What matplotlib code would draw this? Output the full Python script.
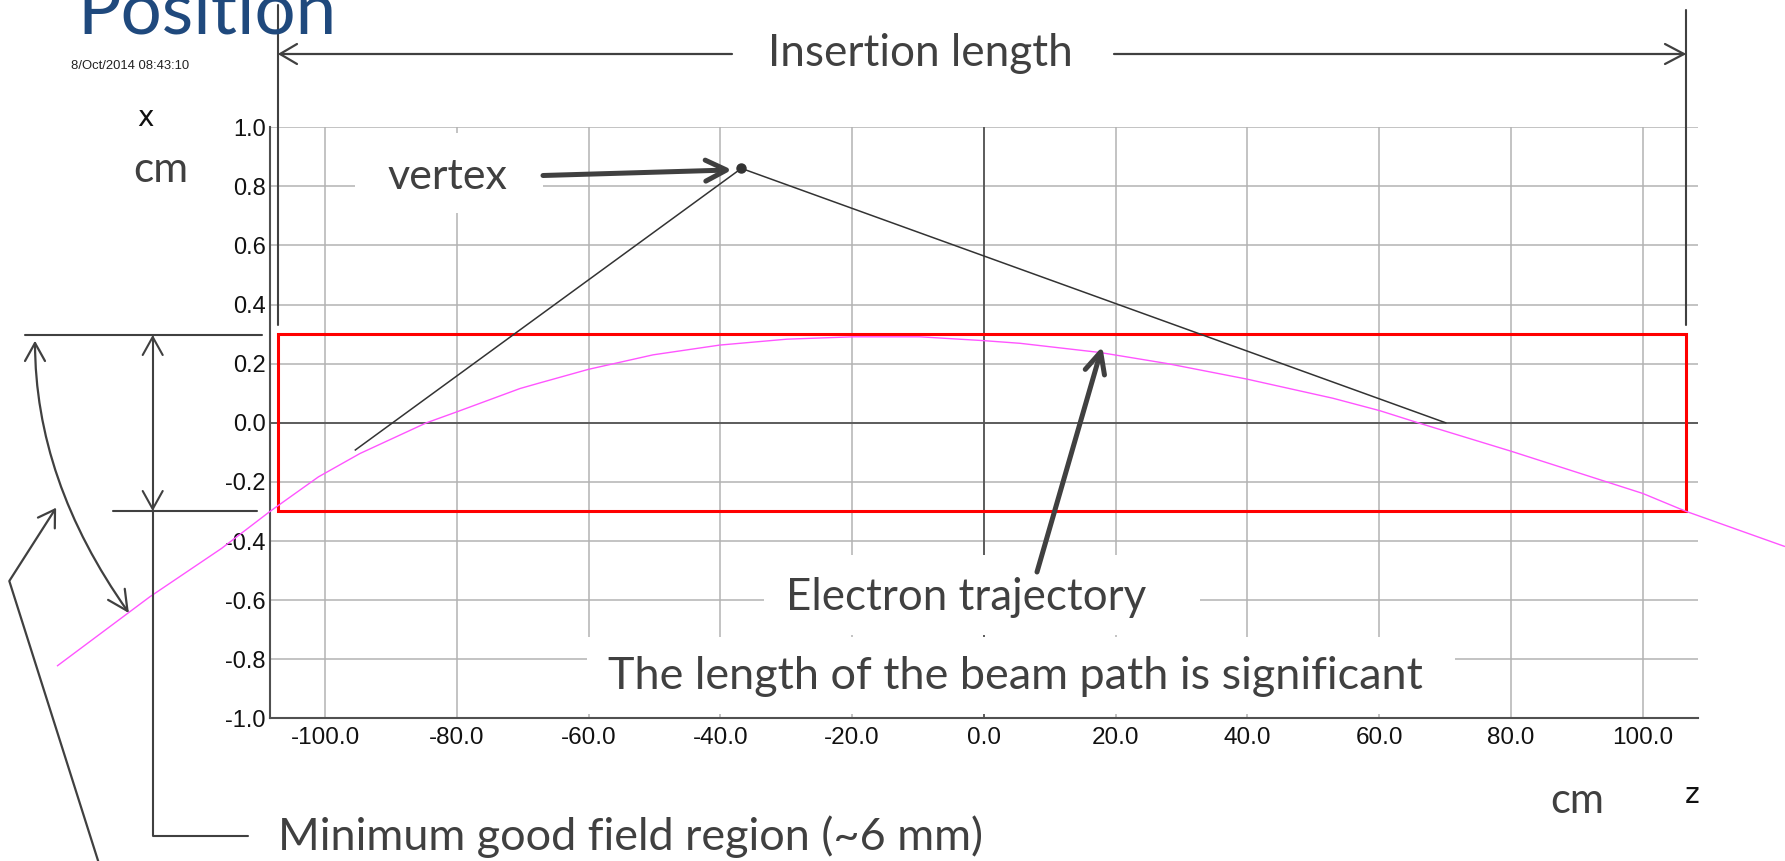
import numpy as np
import matplotlib
matplotlib.use("Agg")
import matplotlib.pyplot as plt
from matplotlib.patches import Rectangle, PathPatch
from matplotlib.path import Path

# ---- data ---------------------------------------------------------------
# electron trajectory: z (cm) vs x (cm)
traj_z = [-140.6, -126.6, -115.7, -108.3, -101.0, -94.7, -84.6, -80.0, -70.4,
          -67.4, -60.0, -50.2, -40.1, -29.9, -19.8, -9.7, 0.0, 5.5, 17.6, 27.7,
          39.9, 53.0, 60.1, 66.2, 80.0, 100.0, 106.5, 121.5]
traj_x = [-0.822, -0.589, -0.425, -0.299, -0.183, -0.104, 0.000, 0.037, 0.116,
          0.135, 0.181, 0.230, 0.263, 0.283, 0.291, 0.291, 0.278, 0.269, 0.238,
          0.201, 0.148, 0.083, 0.041, -0.002, -0.096, -0.239, -0.299, -0.418]

# straight-line track through the vertex
vertex_z = [-95.4, -36.8, 70.1]
vertex_x = [-0.092, 0.861, 0.0]
vertex_point = (-36.8, 0.861)

# good-field region (+/- half width) over the insertion length
good_field_half = 0.3
insertion_z = (-107.2, 106.5)

x_ticks = [-100, -80, -60, -40, -20, 0, 20, 40, 60, 80, 100]
y_ticks = [-1.0, -0.8, -0.6, -0.4, -0.2, 0.0, 0.2, 0.4, 0.6, 0.8, 1.0]
x_ticklabels = ["%.1f" % v for v in x_ticks]
y_ticklabels = ["%.1f" % v for v in y_ticks]

# ---- figure -------------------------------------------------------------
W, H = 1785, 861
fig = plt.figure(figsize=(W / 100, H / 100), dpi=100)
fig.patch.set_facecolor("white")

ax = fig.add_axes([270 / W, 1 - 718.3 / H, (1697.7 - 270) / W, (718.3 - 127.3) / H])
ax.set_xlim(-108.35, 108.35)
ax.set_ylim(-1.0, 1.0)
ax.set_xticks(x_ticks)
ax.set_xticklabels(x_ticklabels)
ax.set_yticks(y_ticks)
ax.set_yticklabels(y_ticklabels)
ax.tick_params(length=0, colors="#111111")
ax.tick_params(axis="y", pad=3, labelsize=17)
ax.tick_params(axis="x", pad=6, labelsize=17.5)
for lab in ax.get_xticklabels() + ax.get_yticklabels():
    lab.set_family("Liberation Sans")
ax.grid(True, color="#b3b3b3", lw=1.1)
ax.set_axisbelow(True)
for s in ("top", "right"):
    ax.spines[s].set_visible(False)
for s in ("left", "bottom"):
    ax.spines[s].set_color("#505050")
    ax.spines[s].set_linewidth(1.5)
ax.axhline(0, color="#555555", lw=1.3, zorder=1)
ax.axvline(0, color="#555555", lw=1.3, zorder=1)

# good-field box
ax.add_patch(Rectangle((insertion_z[0], -good_field_half),
                       insertion_z[1] - insertion_z[0], 2 * good_field_half,
                       fill=False, edgecolor="#ff0000", lw=2.2, zorder=3, clip_on=False))
# trajectory
ax.plot(traj_z, traj_x, color="#ff55ff", lw=1.0, zorder=4, clip_on=False)
# track through vertex
ax.plot(vertex_z, vertex_x, color="#333333", lw=1.1, zorder=5, clip_on=False)
ax.plot(*vertex_point, "o", color="#333333", ms=6.5, zorder=6)

# ---- annotation layer in pixel coordinates ------------------------------
ov = fig.add_axes([0, 0, 1, 1], zorder=3)
ov.set_xlim(0, W)
ov.set_ylim(H, 0)
ov.axis("off")
ov.patch.set_alpha(0)

C = "#404040"


def seg(xs, ys, lw=1.5):
    ov.plot(xs, ys, color=C, lw=lw, solid_capstyle="round",
            solid_joinstyle="round", clip_on=False, zorder=5)


def chevron(tip, d, length=18, half=10, lw=1.5):
    d = np.asarray(d, float)
    d = d / np.hypot(*d)
    n = np.array([-d[1], d[0]])
    tip = np.asarray(tip, float)
    base = tip - d * length
    w1, w2 = base + n * half, base - n * half
    seg([w1[0], tip[0], w2[0]], [w1[1], tip[1], w2[1]], lw)


def label(x, y, s, width, **kw):
    t = ov.text(x, y, s, ha="left", va="baseline", zorder=6, **kw)
    fits.append((t, width))
    return t


def white_box(x0, y0, x1, y1):
    ov.add_patch(Rectangle((x0, y0), x1 - x0, y1 - y0, facecolor="white",
                           edgecolor="none", zorder=1))


fits = []

# text backgrounds
white_box(355, 133, 543, 213)
white_box(764, 555, 1200, 635)
white_box(587, 637, 1455, 714)

# insertion length markers
seg([277.8, 277.8], [5, 325])
seg([1686, 1686], [10, 325])
seg([280, 732], [54, 54], 1.6)
chevron((280, 54), (-1, 0), 17, 10, 1.6)
seg([1114, 1684], [54, 54], 1.6)
chevron((1684, 54), (1, 0), 19, 10, 1.6)

# vertex arrow
seg([543, 722], [175.5, 170.2], 3.6)
chevron((726.5, 170), (1, -0.03), 21, 10.5, 3.6)

# electron trajectory arrow
seg([1037, 1099.5], [572, 356], 3.6)
chevron((1100.7, 352), (63.7, -220), 21, 10, 3.6)

# good-field bracket
seg([25, 262], [335.4, 335.4])
seg([113, 257], [511, 511])
seg([152.7, 152.7], [337, 509])
chevron((152.7, 337), (0, -1), 18, 10)
chevron((152.7, 509), (0, 1), 18, 10)
seg([152.7, 152.7, 248], [511, 835.6, 835.6])

# curved double arrow
curve = Path([(35, 343), (35, 480), (127.5, 611)],
             [Path.MOVETO, Path.CURVE3, Path.CURVE3])
ov.add_patch(PathPatch(curve, fill=False, edgecolor=C, lw=1.6, zorder=5,
                       capstyle="round"))
chevron((35, 343), (0, -1), 18, 10, 1.6)
chevron((127.5, 611), (20.6, 31), 20, 10, 1.6)

# pointer
seg([101, 9.3, 55], [870, 581, 509.5], 1.6)
chevron((55, 509.5), (45.7, -71.5), 16, 10, 1.6)

# texts
sans = "Lato"
label(77, 33, "Position", 259, family=sans, color="#1F497D", fontsize=50)
label(71, 69, "8/Oct/2014 08:43:10", 118, family="Liberation Sans",
      color="#222222", fontsize=9)
ov.text(145, 118, "x", ha="center", va="center", family="DejaVu Sans",
        fontsize=20, color="#111111", zorder=6)
ov.text(1692, 795, "z", ha="center", va="center", family="DejaVu Sans",
        fontsize=20, color="#111111", zorder=6)
label(133, 182, "cm", 55, family=sans, color=C, fontsize=30)
label(1550, 813, "cm", 54, family=sans, color=C, fontsize=30)
label(388, 189, "vertex", 120, family=sans, color=C, fontsize=30)
label(768, 66.5, "Insertion length", 304, family=sans, color=C, fontsize=30)
label(786, 610, "Electron trajectory", 359, family=sans, color=C, fontsize=30)
label(608, 689, "The length of the beam path is significant", 814,
      family=sans, color=C, fontsize=30)
label(278, 850, "Minimum good field region (~6 mm)", 705, family=sans,
      color=C, fontsize=30)

# scale each label to its text-box width
fig.canvas.draw()
r = fig.canvas.get_renderer()
for t, w in fits:
    bw = t.get_window_extent(r).width
    t.set_fontsize(t.get_fontsize() * w / bw)

fig.savefig("out.png", dpi=100)
